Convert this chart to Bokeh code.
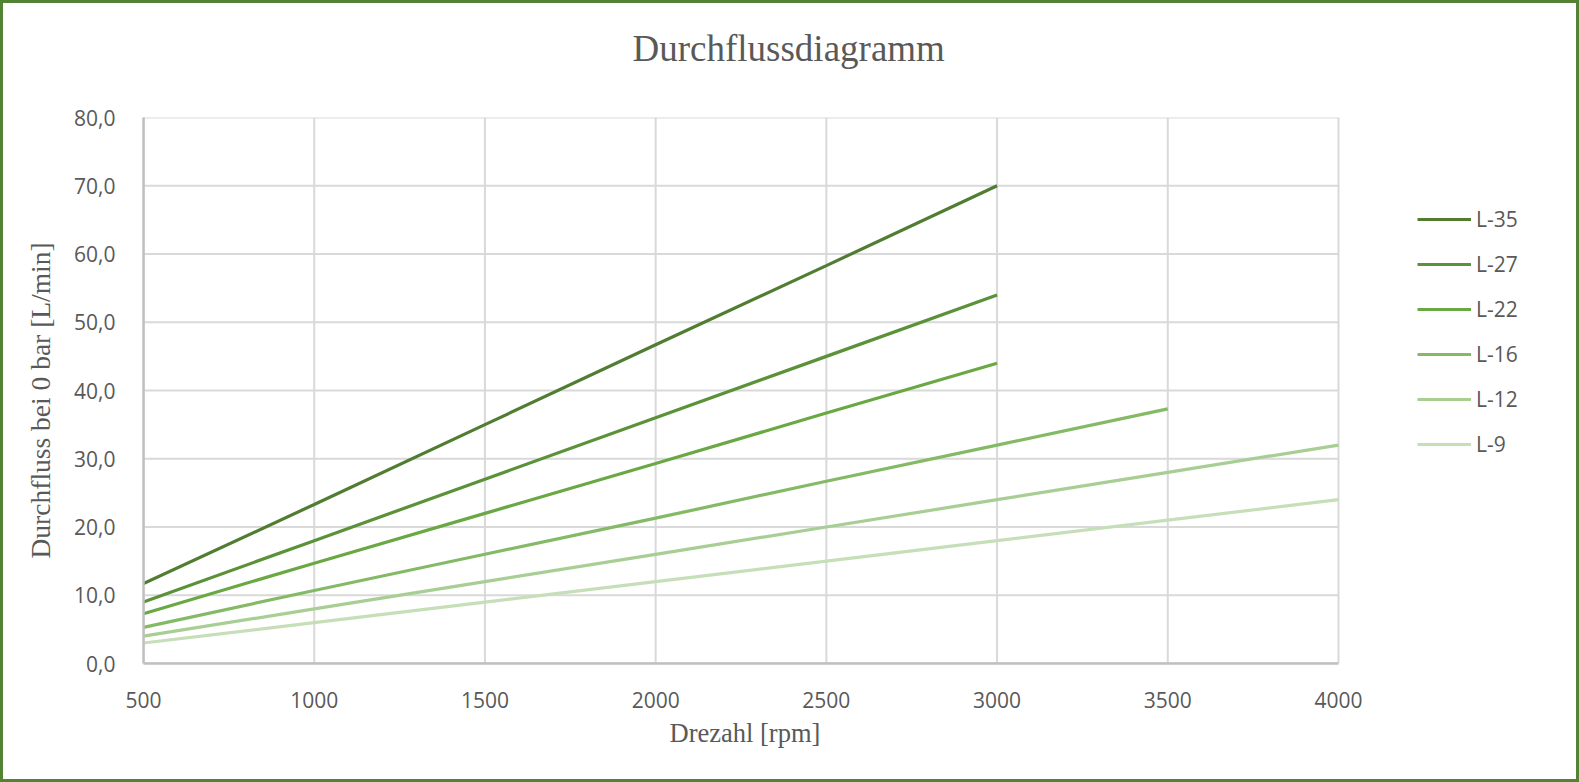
from bokeh.plotting import figure
from bokeh.models import Legend, LegendItem, FixedTicker, Title
from bokeh.embed import file_html
from bokeh.resources import INLINE

# ---- data ----
series_names = ["L-35", "L-27", "L-22", "L-16", "L-12", "L-9"]
rpm_3000 = [500, 1000, 1500, 2000, 2500, 3000]
rpm_3500 = [500, 1000, 1500, 2000, 2500, 3000, 3500]
rpm_4000 = [500, 1000, 1500, 2000, 2500, 3000, 3500, 4000]
l35 = [11.7, 23.3, 35.0, 46.7, 58.3, 70.0]
l27 = [9.0, 18.0, 27.0, 36.0, 45.0, 54.0]
l22 = [7.3, 14.7, 22.0, 29.3, 36.7, 44.0]
l16 = [5.3, 10.7, 16.0, 21.3, 26.7, 32.0, 37.3]
l12 = [4.0, 8.0, 12.0, 16.0, 20.0, 24.0, 28.0, 32.0]
l9 = [3.0, 6.0, 9.0, 12.0, 15.0, 18.0, 21.0, 24.0]
x_ticks = [500, 1000, 1500, 2000, 2500, 3000, 3500, 4000]
y_ticks = [0, 10, 20, 30, 40, 50, 60, 70, 80]
y_tick_labels = ["0,0", "10,0", "20,0", "30,0", "40,0", "50,0", "60,0", "70,0", "80,0"]
title_text = "Durchflussdiagramm"
x_label = "Drezahl [rpm]"
y_label = "Durchfluss bei 0 bar [L/min]"

xs = [rpm_3000, rpm_3000, rpm_3000, rpm_3500, rpm_4000, rpm_4000]
ys = [l35, l27, l22, l16, l12, l9]
colors = ["#507d32", "#5b9138", "#6aa843", "#84ba66", "#a8ce94", "#c6dfb9"]

# ---- layout ----
W, H = 1579, 782
MBL, MBT, MBB = 140, 114, 122
PLOT_W = 1195          # pixel width of the 500..4000 data area
frame_w = W - MBL      # frame extends to the right edge (legend lives there)
x_lo, x_hi = x_ticks[0], x_ticks[-1]
x_end = x_lo + (x_hi - x_lo) * frame_w / PLOT_W

p = figure(width=W, height=H, output_backend="svg", toolbar_location=None,
           x_range=(x_lo, x_end), y_range=(y_ticks[0], y_ticks[-1]),
           min_border_left=MBL, min_border_right=0,
           min_border_top=MBT, min_border_bottom=MBB)
p.styles = {"border": "3px solid #548235"}
p.outline_line_color = None
p.grid.visible = False

label_kw = dict(text_font="Liberation Serif", text_font_style="normal", text_color="#595959")
# spacer drawn white-on-white (closest to the frame), then the real title above it
p.add_layout(Title(text=".", text_font_size="10px", standoff=34, text_color="white"), "above")
p.add_layout(Title(text=title_text, align="left", offset=489, standoff=10,
                   text_font_size="37px", **label_kw), "above")
# axis titles
p.add_layout(Title(text=x_label, align="left", offset=526, standoff=10,
                   text_font_size="26.5px", **label_kw), "below")
p.add_layout(Title(text=y_label, align="left", offset=105, standoff=31,
                   text_font_size="27.5px", **label_kw), "left")

for ax in (p.xaxis, p.yaxis):
    ax.axis_line_color = "#bfbfbf"
    ax.axis_line_width = 2.5
    ax.major_tick_line_color = None
    ax.minor_tick_line_color = None
    ax.major_label_text_font = "Open Sans"
    ax.major_label_text_font_size = "21px"
    ax.major_label_text_color = "#595959"

p.xaxis.bounds = (x_lo, x_hi)
p.xaxis.ticker = FixedTicker(ticks=x_ticks)
p.yaxis.ticker = FixedTicker(ticks=y_ticks)
p.yaxis.major_label_overrides = {t: s for t, s in zip(y_ticks, y_tick_labels)}
p.xaxis.major_label_standoff = 22
p.yaxis.major_label_standoff = 22

# grid lines limited to the data area
grid_kw = dict(line_color="#d9d9d9", line_width=2, level="underlay")
p.segment(x0=[x_lo] * len(y_ticks), x1=[x_hi] * len(y_ticks), y0=y_ticks, y1=y_ticks, **grid_kw)
p.segment(x0=x_ticks, x1=x_ticks, y0=[y_ticks[0]] * len(x_ticks), y1=[y_ticks[-1]] * len(x_ticks), **grid_kw)

items = []
for name, x, y, c in zip(series_names, xs, ys, colors):
    r = p.line(x, y, line_color=c, line_width=3.2)
    items.append(LegendItem(label=name, renderers=[r]))

legend = Legend(items=items, location=(1274, 205), padding=0, margin=0,
                border_line_color=None, background_fill_alpha=0,
                glyph_width=54, glyph_height=20, label_height=20,
                spacing=17, label_standoff=5,
                label_text_font="Open Sans", label_text_font_size="21px",
                label_text_color="#595959")
p.add_layout(legend, "center")

open("out.html", "w").write(file_html(p, INLINE))
